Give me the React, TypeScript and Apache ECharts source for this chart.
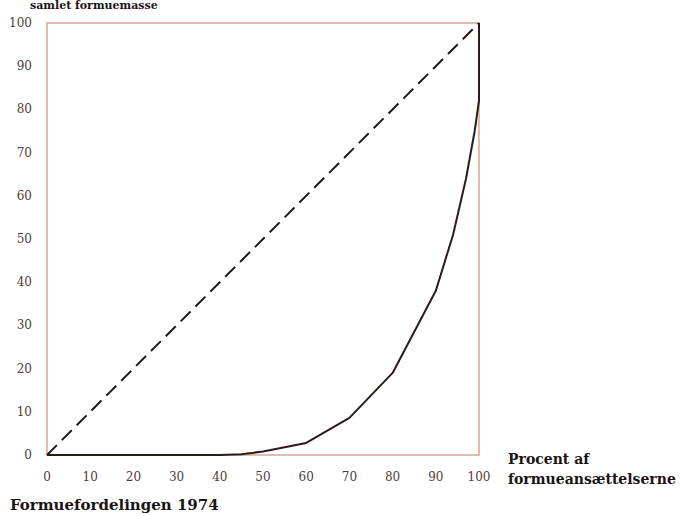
import React, { useEffect, useRef } from "react";
import * as echarts from "echarts";

const xTicks = [0, 10, 20, 30, 40, 50, 60, 70, 80, 90, 100];
const yTicks = [0, 10, 20, 30, 40, 50, 60, 70, 80, 90, 100];
const lorenzX = [0, 10, 20, 30, 40, 45, 50, 60, 70, 80, 90, 94, 97, 99, 100, 100];
const lorenzY = [0, 0, 0, 0, 0, 0.2, 0.8, 2.8, 8.6, 19, 38, 51, 64, 75, 82, 100];
const equalityX = [0, 100];
const equalityY = [0, 100];

const yTitle = "samlet formuemasse";
const xTitle = "Procent af\nformueansættelserne";
const bottomTitle = "Formuefordelingen 1974";

export default function App() {
  const ref = useRef<HTMLDivElement>(null);
  useEffect(() => {
    if (!ref.current) return;
    const chart = echarts.init(ref.current, undefined, { renderer: "svg" });
    const serif = "'DejaVu Serif', 'Liberation Serif', serif";
    chart.setOption({
      animation: false,
      backgroundColor: "#ffffff",
      grid: {
        left: 47,
        right: 202,
        top: 23,
        bottom: 61,
        show: true,
        borderColor: "#e2a682",
        borderWidth: 1.5,
        backgroundColor: "transparent",
      },
      xAxis: {
        type: "value",
        min: 0,
        max: 100,
        interval: 10,
        axisLine: { show: false },
        axisTick: { show: false },
        splitLine: { show: false },
        axisLabel: {
          margin: 16,
          fontFamily: serif,
          fontSize: 12,
          color: "#4e3c3c",
          formatter: (v: number) => (xTicks.includes(v) ? String(v) : ""),
        },
      },
      yAxis: {
        type: "value",
        min: 0,
        max: 100,
        interval: 10,
        axisLine: { show: false },
        axisTick: { show: false },
        splitLine: { show: false },
        axisLabel: {
          margin: 15,
          fontFamily: serif,
          fontSize: 12,
          color: "#4e3c3c",
          formatter: (v: number) => (yTicks.includes(v) ? String(v) : ""),
        },
      },
      series: [
        {
          type: "line",
          data: equalityX.map((x, i) => [x, equalityY[i]]),
          symbol: "none",
          lineStyle: { color: "#1e1a18", width: 2, type: [14, 7] },
        },
        {
          type: "line",
          data: lorenzX.map((x, i) => [x, lorenzY[i]]),
          symbol: "none",
          lineStyle: { color: "#2a1c18", width: 2 },
        },
      ],
      graphic: [
        {
          type: "text",
          left: 30,
          top: 0,
          style: {
            text: yTitle,
            font: `bold 11px ${serif}`,
            fill: "#1a1414",
          },
        },
        {
          type: "text",
          left: 508,
          top: 449,
          style: {
            text: xTitle,
            font: `bold 14px ${serif}`,
            fill: "#1a1414",
            lineHeight: 20,
          },
        },
        {
          type: "text",
          left: 10,
          top: 497,
          style: {
            text: bottomTitle,
            font: `bold 15px ${serif}`,
            fill: "#1a1414",
          },
        },
      ],
    });
    return () => chart.dispose();
  }, []);
  return (
    <div
      ref={ref}
      style={{ position: "fixed", left: 0, top: 0, width: 681, height: 516 }}
    />
  );
}
